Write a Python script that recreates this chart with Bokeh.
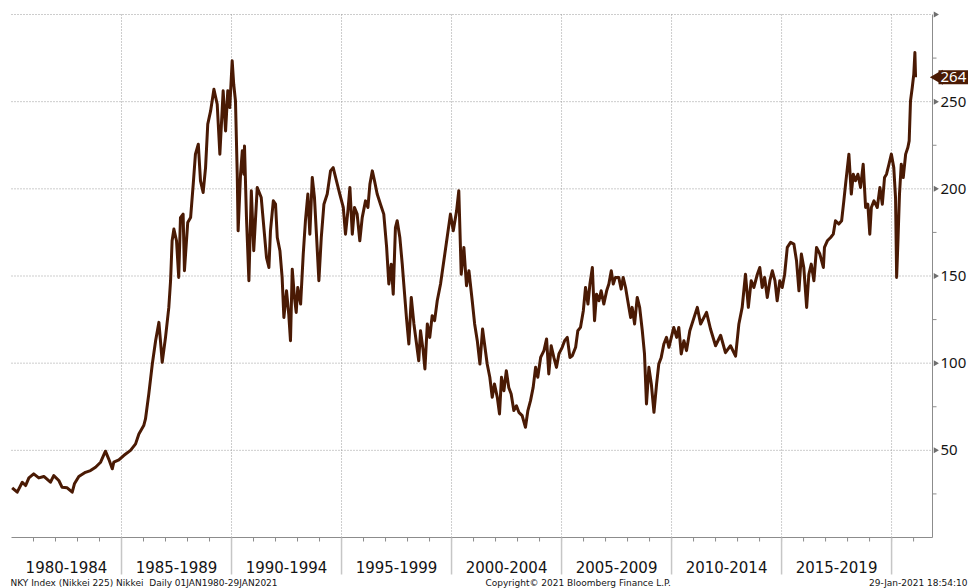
from bokeh.plotting import figure
from bokeh.models import Range1d
from bokeh.core.properties import value
from bokeh.embed import file_html
from bokeh.resources import INLINE
import math

# ---- data (decimal year, index level) ----
years = [
    1980.03, 1980.26, 1980.49, 1980.64, 1980.79, 1981.01, 1981.24, 1981.47, 1981.77, 1981.92,
    1982.15, 1982.30, 1982.53, 1982.76, 1982.86, 1983.06, 1983.36, 1983.59, 1983.82, 1984.05,
    1984.27, 1984.42, 1984.58, 1984.65, 1984.88, 1985.10, 1985.41, 1985.64, 1985.79, 1986.01,
    1986.09, 1986.24, 1986.40, 1986.55, 1986.70, 1986.77, 1986.85, 1987.00, 1987.15, 1987.23,
    1987.30, 1987.38, 1987.50, 1987.60, 1987.68, 1987.80, 1987.86, 1988.01, 1988.14, 1988.26,
    1988.36, 1988.49, 1988.59, 1988.71, 1988.82, 1988.92, 1989.05, 1989.20, 1989.35, 1989.47,
    1989.62, 1989.73, 1989.83, 1989.92, 1990.03, 1990.10, 1990.18, 1990.26, 1990.30, 1990.41,
    1990.49, 1990.56, 1990.59, 1990.68, 1990.79, 1990.90, 1991.01, 1991.17, 1991.35, 1991.47,
    1991.59, 1991.70, 1991.77, 1991.90, 1992.00, 1992.08, 1992.20, 1992.30, 1992.38, 1992.50,
    1992.60, 1992.68, 1992.76, 1992.86, 1992.94, 1993.01, 1993.14, 1993.26, 1993.36, 1993.47,
    1993.56, 1993.67, 1993.77, 1993.86, 1993.97, 1994.08, 1994.20, 1994.35, 1994.50, 1994.62,
    1994.77, 1994.92, 1995.08, 1995.18, 1995.29, 1995.38, 1995.49, 1995.59, 1995.71, 1995.83,
    1995.94, 1996.09, 1996.20, 1996.29, 1996.40, 1996.50, 1996.62, 1996.77, 1996.92, 1997.05,
    1997.15, 1997.26, 1997.35, 1997.45, 1997.53, 1997.65, 1997.76, 1997.83, 1997.95, 1998.06,
    1998.17, 1998.29, 1998.41, 1998.51, 1998.59, 1998.71, 1998.79, 1998.90, 1999.01, 1999.12,
    1999.23, 1999.35, 1999.50, 1999.65, 1999.80, 1999.95, 2000.08, 2000.23, 2000.33, 2000.44,
    2000.56, 2000.68, 2000.79, 2000.94, 2001.05, 2001.17, 2001.29, 2001.41, 2001.50, 2001.62,
    2001.74, 2001.85, 2001.95, 2002.08, 2002.18, 2002.27, 2002.38, 2002.49, 2002.60, 2002.71,
    2002.83, 2002.95, 2003.06, 2003.21, 2003.36, 2003.47, 2003.59, 2003.71, 2003.82, 2003.92,
    2004.05, 2004.20, 2004.32, 2004.42, 2004.53, 2004.65, 2004.77, 2004.88, 2005.03, 2005.14,
    2005.26, 2005.38, 2005.49, 2005.64, 2005.74, 2005.86, 2005.99, 2006.09, 2006.20, 2006.29,
    2006.40, 2006.50, 2006.59, 2006.70, 2006.80, 2006.92, 2007.05, 2007.15, 2007.26, 2007.35,
    2007.45, 2007.60, 2007.71, 2007.80, 2007.91, 2008.01, 2008.14, 2008.21, 2008.32, 2008.44,
    2008.55, 2008.67, 2008.77, 2008.86, 2008.97, 2009.08, 2009.20, 2009.32, 2009.42, 2009.53,
    2009.65, 2009.77, 2009.88, 2009.99, 2010.10, 2010.23, 2010.33, 2010.44, 2010.56, 2010.68,
    2010.83, 2011.17, 2011.32, 2011.59, 2011.77, 2012.00, 2012.23, 2012.45, 2012.68, 2012.91,
    2013.06, 2013.21, 2013.36, 2013.49, 2013.62, 2013.74, 2013.90, 2014.01, 2014.12, 2014.23,
    2014.35, 2014.47, 2014.58, 2014.70, 2014.80, 2014.92, 2015.03, 2015.14, 2015.26, 2015.41,
    2015.56, 2015.68, 2015.79, 2015.90, 2016.01, 2016.14, 2016.24, 2016.35, 2016.47, 2016.59,
    2016.74, 2016.90, 2016.95, 2017.08, 2017.23, 2017.35, 2017.45, 2017.60, 2017.73, 2017.83,
    2017.91, 2018.06, 2018.17, 2018.26, 2018.36, 2018.47, 2018.59, 2018.71, 2018.82, 2018.92,
    2019.01, 2019.08, 2019.20, 2019.35, 2019.47, 2019.58, 2019.68, 2019.77, 2019.88, 2019.99,
    2020.10, 2020.18, 2020.23, 2020.29, 2020.36, 2020.44, 2020.53, 2020.64, 2020.74, 2020.80,
    2020.86, 2020.94, 2021.01, 2021.06, 2021.09,
]
values = [
    28.5, 26.0, 31.7, 29.8, 34.2, 36.5, 34.2, 35.0, 31.7, 35.5,
    32.7, 28.8, 28.5, 26.0, 30.8, 35.0, 37.4, 38.4, 40.3, 43.2,
    49.5, 45.0, 39.4, 43.2, 44.5, 47.0, 50.0, 53.7, 59.4, 64.2,
    68.0, 82.3, 99.5, 112.9, 123.4, 112.9, 100.5, 114.8, 132.0, 147.3,
    170.2, 176.9, 170.2, 149.2, 183.5, 185.5, 153.0, 180.7, 183.5, 202.7,
    219.9, 225.6, 204.6, 197.9, 212.2, 237.1, 244.7, 257.1, 248.5, 219.9,
    256.2, 233.2, 256.2, 246.6, 273.4, 260.0, 250.4, 208.4, 175.9, 208.4,
    221.8, 208.4, 224.6, 183.5, 147.3, 198.9, 164.5, 200.8, 195.0, 177.8,
    160.6, 154.9, 175.9, 193.1, 191.2, 172.1, 164.5, 149.2, 126.2, 141.5,
    128.2, 112.9, 153.9, 137.7, 129.1, 143.4, 133.9, 162.6, 181.7, 197.0,
    174.0, 206.5, 195.0, 174.0, 147.3, 172.1, 191.2, 197.0, 210.3, 212.2,
    204.6, 197.0, 189.3, 174.0, 187.4, 200.8, 174.0, 189.3, 185.5, 170.2,
    183.5, 193.1, 189.3, 202.7, 210.3, 204.6, 197.0, 191.2, 185.5, 166.4,
    145.4, 156.8, 139.6, 177.8, 181.7, 172.1, 156.8, 145.4, 126.2, 111.0,
    137.7, 122.5, 111.0, 101.4, 118.6, 107.2, 96.7, 122.5, 114.8, 127.2,
    124.4, 135.8, 145.4, 158.7, 172.1, 185.5, 175.9, 187.4, 198.9, 151.0,
    166.4, 144.4, 153.0, 135.8, 122.5, 112.9, 99.5, 119.6, 111.0, 99.5,
    91.9, 80.4, 88.1, 80.4, 70.9, 91.9, 84.2, 95.7, 86.1, 82.3,
    72.8, 75.6, 71.8, 69.9, 63.2, 72.8, 78.5, 86.1, 97.6, 91.9,
    103.3, 107.2, 113.9, 93.8, 110.0, 103.3, 97.6, 105.3, 109.1, 112.9,
    114.8, 103.3, 104.3, 109.1, 118.6, 120.5, 130.1, 143.4, 133.9, 145.4,
    154.9, 124.4, 139.6, 135.8, 141.5, 133.9, 141.5, 145.4, 153.0, 145.4,
    149.2, 149.2, 142.5, 149.2, 143.4, 135.8, 126.2, 132.0, 122.5, 137.7,
    132.0, 118.6, 105.3, 76.6, 97.6, 88.1, 71.8, 88.1, 99.5, 103.3,
    111.0, 114.8, 109.1, 114.8, 120.5, 114.8, 120.5, 105.3, 112.9, 107.2,
    118.6, 132.0, 122.5, 129.1, 119.6, 110.0, 116.0, 106.0, 110.0, 104.0,
    122.5, 132.0, 151.0, 132.0, 147.3, 143.4, 151.0, 154.9, 143.4, 149.2,
    137.7, 147.3, 153.0, 147.3, 135.8, 147.3, 143.4, 151.0, 166.4, 169.3,
    168.3, 158.7, 141.5, 162.6, 154.9, 132.0, 151.0, 156.8, 147.3, 166.4,
    162.6, 154.9, 166.4, 170.2, 172.1, 174.0, 181.7, 179.8, 181.7, 193.1,
    202.7, 219.9, 197.0, 208.4, 204.6, 208.4, 200.8, 214.1, 189.3, 191.2,
    174.0, 189.3, 193.1, 189.3, 200.8, 191.2, 206.5, 208.4, 214.1, 219.9,
    212.2, 195.0, 149.2, 170.2, 197.0, 214.1, 206.5, 219.9, 223.7, 227.5,
    250.4, 258.1, 265.8, 278.2, 264.0,
]
last_value = 264

y_ticks = [50, 100, 150, 200, 250, 300]
y_tick_labels = ["50", "100", "150", "200", "250", ""]
y_minor = [25, 75, 125, 175, 225, 275]
period_labels = ["1980-1984", "1985-1989", "1990-1994", "1995-1999",
                 "2000-2004", "2005-2009", "2010-2014", "2015-2019"]
period_starts = [1980, 1985, 1990, 1995, 2000, 2005, 2010, 2015]
boundaries = [1985, 1990, 1995, 2000, 2005, 2010, 2015, 2020]
year_ticks = list(range(1981, 2022))
x_start, x_end = 1980.0, 2021.86
y_start, y_end = 0, 300

footer_left = "NKY Index (Nikkei 225) Nikkei\u00a0 Daily 01JAN1980-29JAN2021"
footer_mid = "Copyright\u00a9 2021 Bloomberg Finance L.P."
footer_right = "29-Jan-2021 18:54:10"

# ---- layout (pixels) ----
W, H = 968, 588
PLOT_L, PLOT_R, PLOT_T, PLOT_B = 11, 932, 14, 537
kx = (PLOT_R - PLOT_L) / (x_end - x_start)      # px per year
ky = (PLOT_B - PLOT_T) / (y_end - y_start)      # px per unit

def xd(px):
    return x_start + (px - PLOT_L) / kx

def yd(py):
    return y_end - (py - PLOT_T) / ky

def dx(npx):
    return npx / kx

def dy(npx):
    return npx / ky

LINE = "#4a1a04"
AXIS = "#8c8c8c"
GRID = "#9a9a9a"
TEXT = "#141414"

p = figure(width=W, height=H, x_range=Range1d(xd(0), xd(W)), y_range=Range1d(yd(H), yd(0)),
           output_backend="svg", toolbar_location=None, min_border=0)
p.axis.visible = False
p.grid.visible = False
p.outline_line_color = None
p.background_fill_color = "white"
p.border_fill_color = "white"

# dotted grid
p.segment(x0=x_start, x1=x_end, y0=y_ticks, y1=y_ticks, line_color=GRID, line_width=1, line_dash="1 2")
p.segment(x0=boundaries, x1=boundaries, y0=y_start, y1=y_end, line_color=GRID, line_width=1, line_dash="1 2")

# bottom axis: line, yearly ticks, long period separators
p.segment(x0=x_start, x1=x_end, y0=y_start, y1=y_start, line_color=AXIS, line_width=1)
p.segment(x0=year_ticks, x1=year_ticks, y0=y_start, y1=y_start - dy(4), line_color=AXIS, line_width=1)
p.segment(x0=boundaries, x1=boundaries, y0=y_start, y1=y_start - dy(37), line_color="#c6c6c6", line_width=1.5)
p.text(x=[s + 2.5 for s in period_starts], y=yd(566), text=period_labels,
       text_align="center", text_baseline="middle",
       text_font=value("DejaVu Sans"), text_font_size="15px", text_color=TEXT)

# right axis
p.segment(x0=x_end, x1=x_end, y0=y_start, y1=y_end, line_color=AXIS, line_width=1)
p.segment(x0=x_end, x1=x_end + dx(4), y0=y_minor, y1=y_minor, line_color=AXIS, line_width=1)
p.scatter(x=x_end + dx(3), y=y_ticks, marker="triangle", size=6, angle=-math.pi / 2,
          fill_color="#6e6e6e", line_color=None)
p.text(x=x_end + dx(8), y=y_ticks, text=y_tick_labels, text_align="left", text_baseline="middle",
       text_font=value("Noto Sans"), text_font_size="15px", text_color=TEXT)

# the series
p.line(years, values, line_color=LINE, line_width=3, line_join="round")

# last value tag
p.scatter(x=x_end + dx(6), y=last_value, marker="triangle", size=15, angle=math.pi / 2,
          fill_color=LINE, line_color=None)
p.text(x=x_end + dx(6), y=last_value, text=[str(last_value)], text_align="left", text_baseline="middle",
       text_font=value("Noto Sans"), text_font_size="15px", text_color="white",
       background_fill_color=LINE, padding=2)

# footers
fk = dict(text_baseline="bottom", text_font=value("DejaVu Sans"), text_font_size="9px", text_color=TEXT)
p.text(x=xd(10), y=yd(587), text=[footer_left], text_align="left", **fk)
p.text(x=xd(485), y=yd(587), text=[footer_mid], text_align="left", **fk)
p.text(x=xd(967), y=yd(587), text=[footer_right], text_align="right", **fk)

open("out.html", "w").write(file_html(p, INLINE))
